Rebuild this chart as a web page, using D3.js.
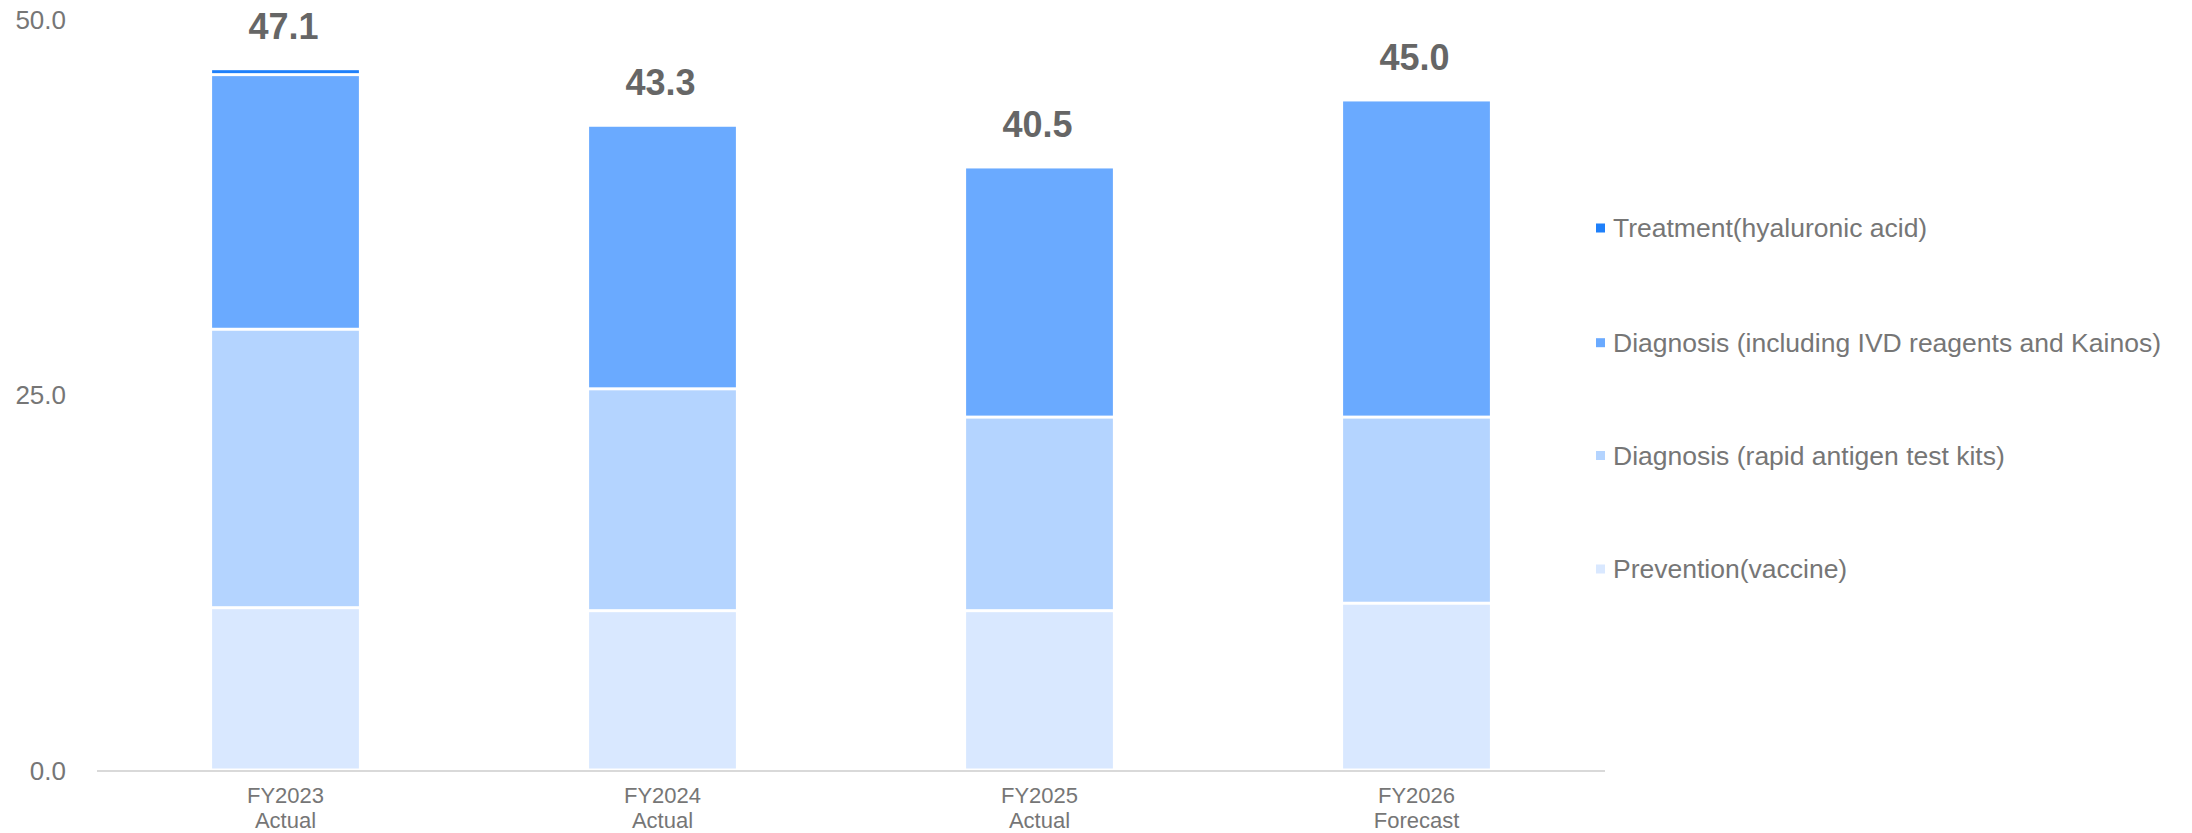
<!DOCTYPE html>
<html>
<head>
<meta charset="utf-8">
<script src="https://cdn.jsdelivr.net/npm/d3@7"></script>
<style>
  html, body { margin: 0; padding: 0; background: #ffffff; }
  svg { display: block; font-family: "Liberation Sans", Arial, sans-serif; }
</style>
</head>
<body>
<svg id="chart" width="2192" height="833"></svg>
<script>
const years = ["FY2023", "FY2024", "FY2025", "FY2026"];
const yearSub = ["Actual", "Actual", "Actual", "Forecast"];
const seriesNames = ["Prevention(vaccine)", "Diagnosis (rapid antigen test kits)", "Diagnosis (including IVD reagents and Kainos)", "Treatment(hyaluronic acid)"];
const prevention = [10.9, 10.7, 10.7, 11.2];
const rapidKits = [18.7, 14.9, 13.0, 12.5];
const ivdKainos = [17.1, 17.7, 16.8, 21.3];
const treatment = [0.4, 0.0, 0.0, 0.0];
const totals = [47.1, 43.3, 40.5, 45.0];
const yTicks = [0, 25, 50];
const colors = ["#d9e8ff", "#b4d4ff", "#6aaaff", "#1f80fa"];

const svg = d3.select("#chart");
const seriesValues = [prevention, rapidKits, ivdKainos, treatment];
const keys = ["prevention", "rapid", "ivd", "treatment"];
const table = years.map((y, i) => {
  const row = { year: y };
  keys.forEach((k, j) => row[k] = seriesValues[j][i]);
  return row;
});

const x = d3.scaleBand().domain(years).range([97, 1605]).paddingInner(0.6).paddingOuter(0.3);
const y = d3.scaleLinear().domain([0, 50]).range([771, 26.5]);

const stack = d3.stack().keys(keys);
const layers = stack(table);

// bars (white gaps between segments)
svg.append("g").selectAll("g").data(layers).join("g")
  .attr("fill", (d, i) => colors[i])
  .selectAll("rect").data(d => d.filter(s => s[1] - s[0] > 0)).join("rect")
  .attr("x", d => x(d.data.year) + 2)
  .attr("y", d => y(d[1]) + 0.5)
  .attr("width", x.bandwidth() - 4)
  .attr("height", d => Math.max(1, y(d[0]) - y(d[1]) - 3));

// axis line
svg.append("line")
  .attr("x1", 97).attr("x2", 1605)
  .attr("y1", y(0)).attr("y2", y(0))
  .attr("stroke", "#d9d9d9").attr("stroke-width", 2);

// y tick labels
const yAxis = d3.axisLeft(y).tickValues(yTicks).tickFormat(d3.format(".1f")).tickSize(0).tickPadding(0);
const yg = svg.append("g").attr("transform", "translate(66,0)").call(yAxis);
yg.select(".domain").remove();
yg.selectAll("text").attr("fill", "#767676").attr("font-size", 26)
  .attr("font-family", "'Liberation Sans', Arial, sans-serif");
yg.selectAll(".tick").filter(d => d === 25).attr("transform", `translate(0,${y(25) - 3})`);
yg.selectAll(".tick").filter(d => d === 50).attr("transform", `translate(0,${y(50) - 6})`);

// x labels
const xg = svg.append("g");
years.forEach((yr, i) => {
  const cx = x(yr) + x.bandwidth() / 2;
  xg.append("text").attr("x", cx).attr("y", 803).attr("text-anchor", "middle")
    .attr("font-size", 22).attr("fill", "#767676").text(yr);
  xg.append("text").attr("x", cx).attr("y", 828).attr("text-anchor", "middle")
    .attr("font-size", 22).attr("fill", "#767676").text(yearSub[i]);
});

// totals
svg.append("g").selectAll("text").data(years).join("text")
  .attr("x", d => x(d) + x.bandwidth() / 2 - 2)
  .attr("y", (d, i) => y(totals[i]) - 31)
  .attr("text-anchor", "middle")
  .attr("font-size", 36).attr("font-weight", "bold").attr("fill", "#666666")
  .text((d, i) => totals[i].toFixed(1));

// legend
const legendOrder = [3, 2, 1, 0];
const legendY = [228, 342.7, 455.5, 569];
const lg = svg.append("g");
legendOrder.forEach((si, k) => {
  lg.append("rect").attr("x", 1596).attr("y", legendY[k] - 4.5).attr("width", 9).attr("height", 9)
    .attr("fill", colors[si]);
  lg.append("text").attr("x", 1613).attr("y", legendY[k]).attr("dy", "0.35em")
    .attr("font-size", 26.5).attr("fill", "#767676").text(seriesNames[si]);
});
</script>
</body>
</html>
